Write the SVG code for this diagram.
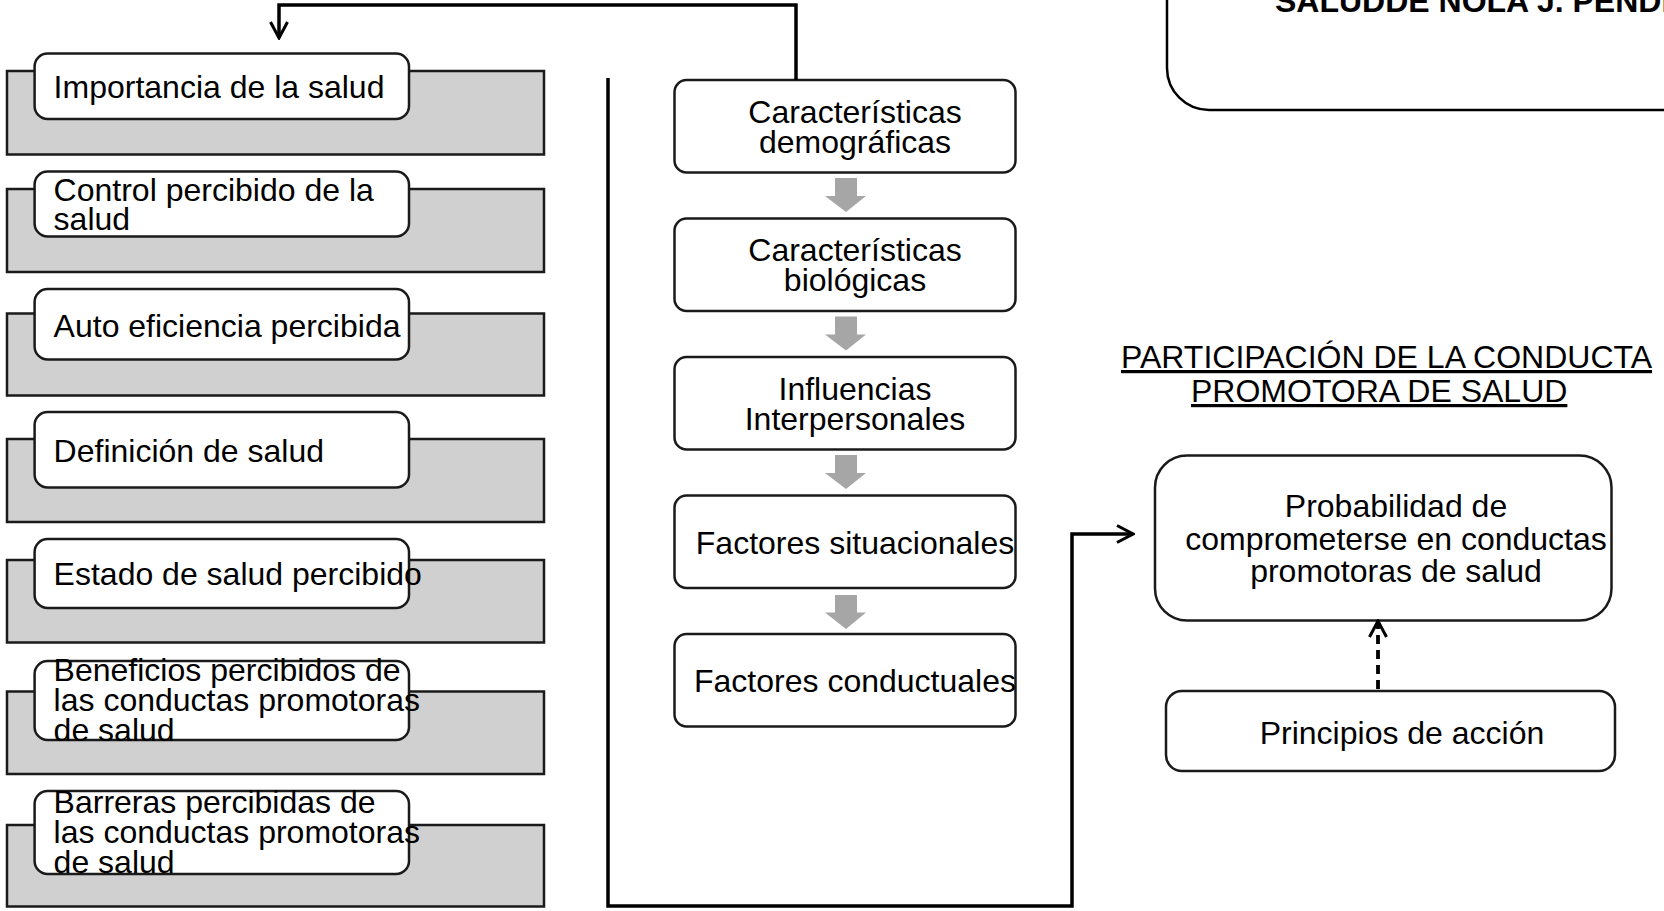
<svg xmlns="http://www.w3.org/2000/svg" width="1664" height="911" viewBox="0 0 1664 911">
<defs>
<style>
text{font-family:"Liberation Sans",Arial,sans-serif;font-size:32px;fill:#000}
.gray{fill:#d0d0d0;stroke:#1a1a1a;stroke-width:2.5}
.wbox{fill:#fff;stroke:#1a1a1a;stroke-width:2.5}
.ga{fill:#a6a6a6;stroke:none}
.conn{fill:none;stroke:#000;stroke-width:3.5}
.dash{fill:none;stroke:#000;stroke-width:3.8;stroke-dasharray:9 6}
.mid{text-anchor:middle}
</style>
<marker id="ah" viewBox="0 0 20 20" refX="18" refY="10" markerWidth="20" markerHeight="20" markerUnits="userSpaceOnUse" orient="auto">
<path d="M2,1.5 L18,10 L2,18.5" fill="none" stroke="#000" stroke-width="3"/>
</marker>
</defs>
<rect width="1664" height="911" fill="#fff"/>

<g id="title-box">
<rect x="1167" y="-70" width="620" height="180" rx="42" fill="#fff" stroke="#000" stroke-width="2.5"/>
<text x="1275" y="12" style="font-weight:bold">SALUDDE NOLA J. PENDER</text>
</g>

<g id="row1">
<rect class="gray" x="7" y="71" width="537" height="83.5"/>
<rect class="wbox" x="34.6" y="53.5" width="374.4" height="65.5" rx="13"/>
<text x="53.6" y="97.5">Importancia de la salud</text>
</g>
<g id="row2">
<rect class="gray" x="7" y="189" width="537" height="83"/>
<rect class="wbox" x="34.6" y="171.5" width="374.4" height="65" rx="13"/>
<text x="53.6" y="201">Control percibido de la</text>
<text x="53.6" y="230">salud</text>
</g>
<g id="row3">
<rect class="gray" x="7" y="313.5" width="537" height="82"/>
<rect class="wbox" x="34.6" y="289" width="374.4" height="70.5" rx="13"/>
<text x="53.6" y="336.5">Auto eficiencia percibida</text>
</g>
<g id="row4">
<rect class="gray" x="7" y="439" width="537" height="83"/>
<rect class="wbox" x="34.6" y="412" width="374.4" height="75.5" rx="13"/>
<text x="53.6" y="461.5">Definición de salud</text>
</g>
<g id="row5">
<rect class="gray" x="7" y="560" width="537" height="82.5"/>
<rect class="wbox" x="34.6" y="539" width="374.4" height="69" rx="13"/>
<text x="53.6" y="585">Estado de salud percibido</text>
</g>
<g id="row6">
<rect class="gray" x="7" y="691.5" width="537" height="82.5"/>
<rect class="wbox" x="34.6" y="661" width="374.4" height="79" rx="13"/>
<text x="53.6" y="681">Beneficios percibidos de</text>
<text x="53.6" y="711">las conductas promotoras</text>
<text x="53.6" y="741">de salud</text>
</g>
<g id="row7">
<rect class="gray" x="7" y="825" width="537" height="81.5"/>
<rect class="wbox" x="34.6" y="791" width="374.4" height="83" rx="13"/>
<text x="53.6" y="813">Barreras percibidas de</text>
<text x="53.6" y="843">las conductas promotoras</text>
<text x="53.6" y="873">de salud</text>
</g>

<g id="demograficas">
<rect class="wbox" x="674.5" y="80" width="341" height="92.5" rx="12"/>
<text class="mid" x="855" y="122.5">Características</text>
<text class="mid" x="855" y="152.5">demográficas</text>
</g>
<g id="biologicas">
<rect class="wbox" x="674.5" y="218.5" width="341" height="92.5" rx="12"/>
<text class="mid" x="855" y="261">Características</text>
<text class="mid" x="855" y="291">biológicas</text>
</g>
<g id="interpersonales">
<rect class="wbox" x="674.5" y="357" width="341" height="92.5" rx="12"/>
<text class="mid" x="855" y="399.5">Influencias</text>
<text class="mid" x="855" y="429.5">Interpersonales</text>
</g>
<g id="situacionales">
<rect class="wbox" x="674.5" y="495.5" width="341" height="92.5" rx="12"/>
<text class="mid" x="855" y="553.5">Factores situacionales</text>
</g>
<g id="conductuales">
<rect class="wbox" x="674.5" y="634" width="341" height="92.5" rx="12"/>
<text class="mid" x="855" y="692">Factores conductuales</text>
</g>

<g id="flow-arrows">
<polygon class="ga" points="835,178 857,178 857,196 866,196 846,212 825,196 835,196"/>
<polygon class="ga" points="835,316.5 857,316.5 857,334.5 866,334.5 846,350.5 825,334.5 835,334.5"/>
<polygon class="ga" points="835,455 857,455 857,473 866,473 846,489 825,473 835,473"/>
<polygon class="ga" points="835,595 857,595 857,612.5 866,612.5 846,629 825,612.5 835,612.5"/>
</g>

<g id="heading">
<text x="1121" y="368" text-decoration="underline">PARTICIPACIÓN DE LA CONDUCTA</text>
<text x="1191" y="402" text-decoration="underline">PROMOTORA DE SALUD</text>
</g>

<g id="probabilidad">
<rect class="wbox" x="1155" y="455.5" width="456.5" height="165" rx="32"/>
<text class="mid" x="1396" y="517">Probabilidad de</text>
<text class="mid" x="1396" y="550">comprometerse en conductas</text>
<text class="mid" x="1396" y="582">promotoras de salud</text>
</g>
<g id="principios">
<rect class="wbox" x="1166" y="691" width="449" height="80" rx="16"/>
<text class="mid" x="1402" y="744">Principios de acción</text>
</g>

<g id="connectors">
<polyline class="conn" points="796,80 796,5 279,5 279,38" marker-end="url(#ah)"/>
<polyline class="conn" points="608,78 608,906 1072,906 1072,534 1133,534" marker-end="url(#ah)"/>
<line class="dash" x1="1378" y1="689" x2="1378" y2="621" marker-end="url(#ah)"/>
</g>
</svg>
